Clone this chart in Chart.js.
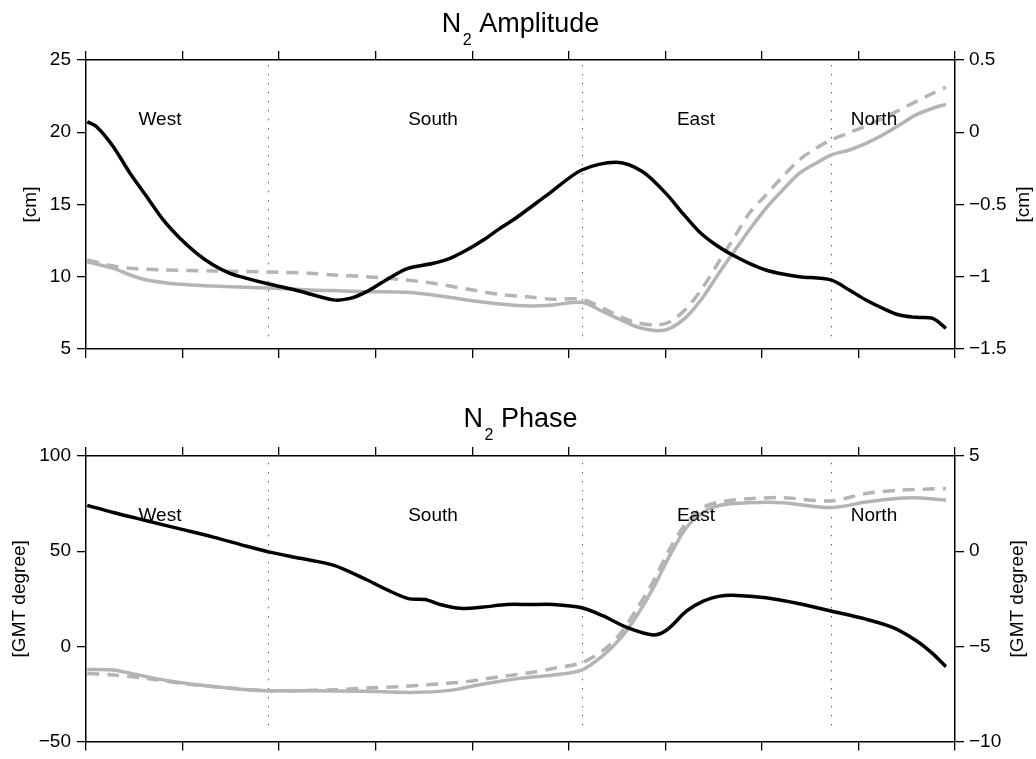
<!DOCTYPE html>
<html>
<head>
<meta charset="utf-8">
<title>N2 Amplitude and Phase</title>
<script src="https://cdn.jsdelivr.net/npm/chart.js@4.4.1/dist/chart.umd.min.js"></script>
<style>
  html, body { margin: 0; padding: 0; background: #fff; }
  #wrap { position: relative; width: 1036px; height: 759px; }
  canvas { position: absolute; left: 0; }
  #amp { top: 0; }
  #pha { top: 380px; }
</style>
</head>
<body>
<div id="wrap">
  <canvas id="amp" width="1036" height="380"></canvas>
  <canvas id="pha" width="1036" height="379"></canvas>
</div>
<script>
// ---- coast sections and axis ticks ----
const regions = ['West', 'South', 'East', 'North'];
const sectionBounds = [1.888, 5.134, 7.716];
const xTicks = [0, 1, 2, 3, 4, 5, 6, 7, 8, 9];

const ampLeftTicks = [5, 10, 15, 20, 25];
const ampRightTicks = [-1.5, -1, -0.5, 0, 0.5];
const phaseLeftTicks = [-50, 0, 50, 100];
const phaseRightTicks = [-10, -5, 0, 5];

// ---- N2 amplitude: black curve on left axis [cm] ----
const ampMainX = [0.013,0.11,0.283,0.456,0.629,0.8,0.973,1.146,1.318,1.491,1.664,1.892,2.216,2.561,2.734,2.907,3.079,3.321,3.597,3.77,3.943,4.115,4.287,4.46,4.798,5.134,5.496,5.765,6.006,6.18,6.351,6.525,6.697,6.869,7.042,7.215,7.387,7.715,7.905,8.078,8.251,8.423,8.596,8.769,8.906];
const ampMainY = [20.73,20.38,19.0,17.16,15.54,13.93,12.66,11.62,10.81,10.24,9.89,9.5,9.0,8.4,8.5,8.97,9.66,10.55,10.93,11.28,11.85,12.54,13.35,14.1,15.77,17.39,17.92,17.27,15.77,14.39,13.12,12.2,11.5,10.93,10.47,10.19,10.0,9.78,9.08,8.39,7.82,7.35,7.19,7.12,6.43];

// ---- N2 amplitude: grey curves on right axis [cm] ----
const ampSolidX = [0.013,0.283,0.456,0.629,0.973,1.318,1.664,1.892,2.32,2.561,2.907,3.321,3.597,3.943,4.287,4.598,4.839,5.134,5.357,5.53,5.703,5.91,6.048,6.221,6.393,6.566,6.739,6.869,7.042,7.215,7.387,7.56,7.715,7.905,8.078,8.251,8.423,8.596,8.769,8.906];
const ampSolidY = [-0.896,-0.942,-0.988,-1.022,-1.052,-1.064,-1.073,-1.078,-1.092,-1.096,-1.103,-1.107,-1.126,-1.161,-1.188,-1.202,-1.195,-1.177,-1.242,-1.295,-1.346,-1.373,-1.357,-1.276,-1.138,-0.965,-0.8,-0.676,-0.526,-0.4,-0.284,-0.215,-0.158,-0.123,-0.077,-0.019,0.05,0.12,0.166,0.193];

const ampDashedX = [0.013,0.283,0.456,0.8,1.318,1.892,2.32,2.561,2.907,3.253,3.597,3.943,4.287,4.598,4.839,5.134,5.357,5.53,5.703,5.91,6.048,6.221,6.393,6.566,6.739,6.869,7.042,7.215,7.387,7.56,7.715,7.905,8.078,8.251,8.423,8.596,8.769,8.906];
const ampDashedY = [-0.884,-0.926,-0.942,-0.953,-0.96,-0.967,-0.976,-0.988,-1.0,-1.018,-1.045,-1.085,-1.122,-1.14,-1.156,-1.156,-1.218,-1.276,-1.318,-1.334,-1.311,-1.218,-1.069,-0.884,-0.7,-0.561,-0.434,-0.307,-0.192,-0.111,-0.054,-0.003,0.043,0.096,0.154,0.212,0.27,0.311];

// ---- N2 phase: black curve on left axis [GMT degree] ----
const phaseMainX = [0.013,0.283,0.629,0.973,1.318,1.664,1.892,2.216,2.561,2.907,3.114,3.338,3.511,3.667,3.874,4.115,4.357,4.598,4.839,5.134,5.357,5.6,5.875,6.014,6.221,6.393,6.566,6.697,7.042,7.387,7.715,8.078,8.354,8.596,8.769,8.906];
const phaseMainY = [74.1,70.35,66.0,61.7,57.4,52.6,49.66,46.3,42.7,35.0,29.8,25.1,24.6,22.0,20.0,20.7,22.0,22.0,22.0,20.3,16.0,10.0,6.0,8.6,18.6,23.8,26.4,26.9,25.5,22.4,18.6,14.3,10.0,3.1,-3.8,-10.7];

// ---- N2 phase: grey curves on right axis [GMT degree] ----
const phaseSolidX = [0.013,0.283,0.629,0.973,1.318,1.664,1.892,2.32,2.907,3.36,3.77,4.115,4.494,4.839,5.134,5.357,5.53,5.703,5.875,6.048,6.221,6.393,6.566,6.869,7.215,7.715,8.078,8.423,8.596,8.906];
const phaseSolidY = [-6.21,-6.24,-6.59,-6.9,-7.11,-7.28,-7.33,-7.33,-7.36,-7.42,-7.31,-6.97,-6.68,-6.5,-6.24,-5.47,-4.61,-3.4,-1.93,-0.21,1.26,2.04,2.41,2.55,2.55,2.29,2.58,2.78,2.81,2.69];

const phaseDashedX = [0.013,0.283,0.629,0.973,1.318,1.892,2.561,2.907,3.253,3.597,3.943,4.287,4.598,4.839,5.134,5.357,5.53,5.703,5.875,6.048,6.221,6.393,6.566,6.869,7.215,7.715,8.078,8.423,8.906];
const phaseDashedY = [-6.42,-6.5,-6.68,-6.93,-7.11,-7.33,-7.28,-7.19,-7.11,-6.99,-6.85,-6.59,-6.38,-6.16,-5.86,-5.21,-4.35,-3.05,-1.59,0.14,1.52,2.3,2.58,2.76,2.81,2.64,3.03,3.21,3.29];

// ---- drawing helpers ----
const FONT = '"Liberation Sans", Arial, Helvetica, sans-serif';
const BLACK = '#000000';
const GREY = '#b4b4b4';
const TXT = 19;
Chart.defaults.font.family = FONT;
Chart.defaults.color = BLACK;

const fmt = v => (v < 0 ? '\u2212' : '') + String(Math.abs(v));

function series(xs, ys, color, dash, axis) {
  return {
    data: xs.map((x, i) => ({ x: x, y: ys[i] })),
    borderColor: color,
    borderWidth: 3.5,
    borderDash: dash,
    borderCapStyle: 'butt',
    borderJoinStyle: 'round',
    pointRadius: 0,
    fill: false,
    tension: 0.3,
    yAxisID: axis
  };
}

function xAxis(position, height) {
  return {
    type: 'linear', position: position, min: 0, max: 9,
    afterBuildTicks: s => { s.ticks = xTicks.map(v => ({ value: v })); },
    ticks: { display: false },
    grid: { drawOnChartArea: false, drawTicks: true, tickLength: 9, color: BLACK, lineWidth: 1.3 },
    border: { display: true, color: BLACK, width: 1.5 },
    afterFit: s => { s.height = height; }
  };
}

function yAxis(position, min, max, ticks, width, pad) {
  return {
    type: 'linear', position: position, min: min, max: max,
    afterBuildTicks: s => { s.ticks = ticks.map(v => ({ value: v })); },
    ticks: { color: BLACK, font: { size: TXT }, padding: pad, callback: v => fmt(v) },
    grid: { drawOnChartArea: false, drawTicks: true, tickLength: 9, color: BLACK, lineWidth: 1.3 },
    border: { display: true, color: BLACK, width: 1.5 },
    afterFit: s => { s.width = width; }
  };
}

// Section dividers, section names, subscripted title and axis titles
function decor(cfg) {
  return {
    id: 'decor',
    beforeDatasetsDraw(chart) {
      const ctx = chart.ctx, a = chart.chartArea, xs = chart.scales.x;
      ctx.save();
      ctx.strokeStyle = '#555';
      ctx.lineWidth = 1;
      ctx.setLineDash([1.3, 7.7]);
      sectionBounds.forEach(b => {
        const px = Math.round(xs.getPixelForValue(b)) + 0.5;
        ctx.beginPath();
        ctx.moveTo(px, a.top + cfg.dotTop);
        ctx.lineTo(px, a.bottom - 9);
        ctx.stroke();
      });
      ctx.restore();
    },
    afterDatasetsDraw(chart) {
      const ctx = chart.ctx, a = chart.chartArea, xs = chart.scales.x, yl = chart.scales.yL;
      ctx.save();
      ctx.fillStyle = BLACK;
      // section names
      ctx.font = TXT + 'px ' + FONT;
      ctx.textAlign = 'center';
      ctx.textBaseline = 'alphabetic';
      regions.forEach((r, i) => {
        ctx.fillText(r, xs.getPixelForValue(cfg.labelX[i]), yl.getPixelForValue(cfg.labelY));
      });
      // title with subscript
      const mainFont = '27px ' + FONT, subFont = '16px ' + FONT;
      ctx.font = mainFont; const wN = ctx.measureText(cfg.title[0]).width;
      const wRest = ctx.measureText(cfg.title[2]).width;
      ctx.font = subFont; const wSub = ctx.measureText(cfg.title[1]).width;
      const gap = 1.5;
      let x0 = (a.left + a.right) / 2 - (wN + gap + wSub + wRest) / 2;
      ctx.textAlign = 'left';
      ctx.font = mainFont; ctx.fillText(cfg.title[0], x0, cfg.titleBase);
      ctx.font = subFont; ctx.fillText(cfg.title[1], x0 + wN + gap, cfg.titleBase + 12.5);
      ctx.font = mainFont; ctx.fillText(cfg.title[2], x0 + wN + gap + wSub, cfg.titleBase);
      // axis titles, reading upward on both sides
      ctx.font = TXT + 'px ' + FONT;
      ctx.textAlign = 'center';
      ctx.textBaseline = 'middle';
      const yc = (a.top + a.bottom) / 2;
      [[cfg.leftTitle, cfg.leftTitleX], [cfg.rightTitle, cfg.rightTitleX]].forEach(([t, x]) => {
        ctx.save();
        ctx.translate(x, yc);
        ctx.rotate(-Math.PI / 2);
        ctx.fillText(t, 0, 0);
        ctx.restore();
      });
      ctx.restore();
    }
  };
}

const baseOptions = {
  responsive: false,
  animation: false,
  devicePixelRatio: 1,
  events: [],
  layout: { padding: 0 },
  plugins: { legend: { display: false }, tooltip: { enabled: false }, title: { display: false } }
};

function makeChart(id, datasets, scales, deco) {
  return new Chart(document.getElementById(id), {
    type: 'line',
    data: { datasets: datasets },
    options: Object.assign({}, baseOptions, { scales: scales }),
    plugins: [decor(deco)]
  });
}

// N2 amplitude panel
makeChart('amp',
  [
    series(ampMainX, ampMainY, BLACK, [], 'yL'),
    series(ampDashedX, ampDashedY, GREY, [12, 8], 'yR'),
    series(ampSolidX, ampSolidY, GREY, [], 'yR')
  ],
  {
    x: xAxis('bottom', 31),
    xTop: xAxis('top', 60),
    yL: yAxis('left', 5, 25, ampLeftTicks, 86, 6),
    yR: yAxis('right', -1.5, 0.5, ampRightTicks, 81, 5)
  },
  {
    title: ['N', '2', ' Amplitude'], titleBase: 32,
    leftTitle: '[cm]', leftTitleX: 31, rightTitle: '[cm]', rightTitleX: 1024,
    labelX: [0.766, 3.594, 6.317, 8.161], labelY: 20.5, dotTop: 5
  }
);

// N2 phase panel
makeChart('pha',
  [
    series(phaseMainX, phaseMainY, BLACK, [], 'yL'),
    series(phaseDashedX, phaseDashedY, GREY, [12, 8], 'yR'),
    series(phaseSolidX, phaseSolidY, GREY, [], 'yR')
  ],
  {
    x: xAxis('bottom', 13),
    xTop: xAxis('top', 76),
    yL: yAxis('left', -50, 100, phaseLeftTicks, 86, 6),
    yR: yAxis('right', -10, 5, phaseRightTicks, 81, 5)
  },
  {
    title: ['N', '2', ' Phase'], titleBase: 47,
    leftTitle: '[GMT degree]', leftTitleX: 20, rightTitle: '[GMT degree]', rightTitleX: 1018,
    labelX: [0.766, 3.594, 6.317, 8.161], labelY: 66, dotTop: 7
  }
);
</script>
</body>
</html>
